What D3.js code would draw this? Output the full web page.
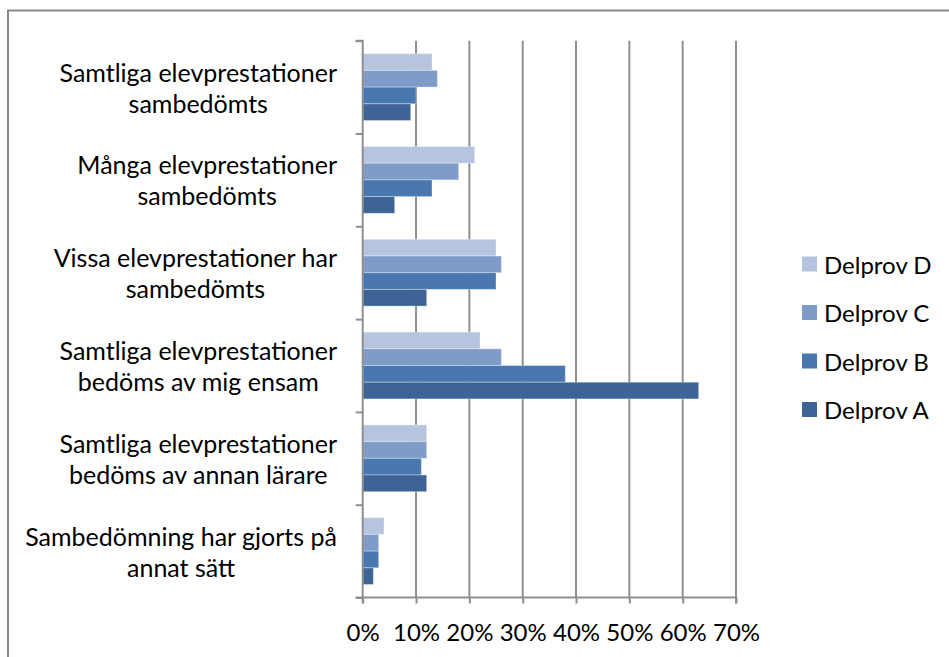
<!DOCTYPE html>
<html>
<head>
<meta charset="utf-8">
<script src="https://cdn.jsdelivr.net/npm/d3@7"></script>
<style>
  body { margin: 0; background: #fff; }
  svg text { font-family: Lato, "Open Sans", sans-serif; fill: #000; }
</style>
</head>
<body>
<svg id="chart" width="949" height="657"></svg>
<script>
// categories top to bottom, each label split in two lines
const categories = [
  ["Samtliga elevprestationer", "sambedömts"],
  ["Många elevprestationer", "sambedömts"],
  ["Vissa elevprestationer har", "sambedömts"],
  ["Samtliga elevprestationer", "bedöms av mig ensam"],
  ["Samtliga elevprestationer", "bedöms av annan lärare"],
  ["Sambedömning har gjorts på", "annat sätt"]
]
const seriesNames = ["Delprov D", "Delprov C", "Delprov B", "Delprov A"]
const delprovD = [0.13, 0.21, 0.25, 0.22, 0.12, 0.04]
const delprovC = [0.14, 0.18, 0.26, 0.26, 0.12, 0.03]
const delprovB = [0.10, 0.13, 0.25, 0.38, 0.11, 0.03]
const delprovA = [0.09, 0.06, 0.12, 0.63, 0.12, 0.02]
const xTicks = [0, 0.1, 0.2, 0.3, 0.4, 0.5, 0.6, 0.7]

const colors = ["#b7c4df", "#7f9cc8", "#4878af", "#3d6495"]
const seriesValues = [delprovD, delprovC, delprovB, delprovA]

let svg = d3.select('#chart')
let padLeft = 362.7, padRight = 736, padTop = 40.7, padBottom = 597.5
let labelSize = 25
let tickSize = 24

// outer frame
svg.append('rect').attr('x', 8).attr('y', 10.5).attr('width', 1000).attr('height', 700)
   .attr('fill', 'none').attr('stroke', '#898989').attr('stroke-width', 2)

let xScale = d3.scaleLinear().domain([0, 0.7]).range([padLeft, padRight])
let yScale = d3.scaleBand().domain(d3.range(categories.length)).range([padTop, padBottom])
               .paddingInner(0.28).paddingOuter(0.14)
let subScale = d3.scaleBand().domain(d3.range(seriesNames.length)).range([0, yScale.bandwidth()])
let step = yScale.step()

// gridlines
svg.append('g').selectAll('line').data(xTicks.slice(1)).join('line')
   .attr('x1', d => xScale(d)).attr('x2', d => xScale(d))
   .attr('y1', padTop).attr('y2', padBottom)
   .attr('stroke', '#8f8f8f').attr('stroke-width', 2)

// bars
let rows = []
categories.forEach((c, i) => {
  seriesValues.forEach((vals, j) => rows.push({cat: i, s: j, v: vals[i]}))
})
svg.append('g').selectAll('rect').data(rows).join('rect')
   .attr('x', xScale(0))
   .attr('y', d => yScale(d.cat) + subScale(d.s))
   .attr('width', d => xScale(d.v) - xScale(0))
   .attr('height', subScale.bandwidth())
   .attr('fill', d => colors[d.s])
   .attr('stroke', 'rgba(255,255,255,0.35)').attr('stroke-width', 1)

// y axis with ticks at category boundaries
let yTickScale = d3.scaleLinear().domain([0, categories.length]).range([padTop, padBottom])
let yAxis = d3.axisLeft(yTickScale).ticks(categories.length).tickSize(7).tickFormat('')
let yG = svg.append('g').attr('transform', 'translate(' + padLeft + ',0)').call(yAxis)
yG.select('.domain').attr('stroke', '#8f8f8f').attr('stroke-width', 2).attr('d', `M-7,${padTop}H0V${padBottom}H-7`)
yG.selectAll('.tick line').attr('stroke', '#8f8f8f').attr('stroke-width', 2)

// x axis
let xAxis = d3.axisBottom(xScale).tickValues(xTicks).tickSize(6).tickFormat(d3.format('.0%'))
let xG = svg.append('g').attr('transform', 'translate(0,' + padBottom + ')').call(xAxis)
xG.select('.domain').attr('stroke', '#8f8f8f').attr('stroke-width', 2).attr('d', `M${padLeft},6V0H${padRight}V6`)
xG.selectAll('.tick line').attr('stroke', '#8f8f8f').attr('stroke-width', 2)
xG.selectAll('text').attr('font-size', tickSize).attr('font-family', 'Lato, sans-serif')
  .attr('y', 34).attr('dy', null).attr('dominant-baseline', 'central').attr('fill', '#000')

// category labels: lines centred on each other, block right aligned
let labelRight = 337
categories.forEach((lines, i) => {
  let cy = padTop + step * (i + 0.5)
  let g = svg.append('g')
  let texts = g.selectAll('text').data(lines).join('text')
     .text(d => d).attr('font-size', labelSize)
     .attr('y', (d, k) => cy + (k - 0.5) * 31)
     .attr('dominant-baseline', 'central').attr('text-anchor', 'middle')
  let maxW = d3.max(texts.nodes(), n => n.getComputedTextLength())
  texts.attr('x', labelRight - maxW / 2)
})

// legend
let legend = svg.append('g').selectAll('g').data(seriesNames).join('g')
   .attr('transform', (d, i) => 'translate(802,' + (264 + i * 48.5) + ')')
legend.append('rect').attr('x', 0).attr('y', -7.5).attr('width', 15).attr('height', 15)
   .attr('fill', (d, i) => colors[i])
legend.append('text').text(d => d).attr('x', 22).attr('y', 0)
   .attr('dominant-baseline', 'central').attr('font-size', tickSize)
</script>
</body>
</html>
